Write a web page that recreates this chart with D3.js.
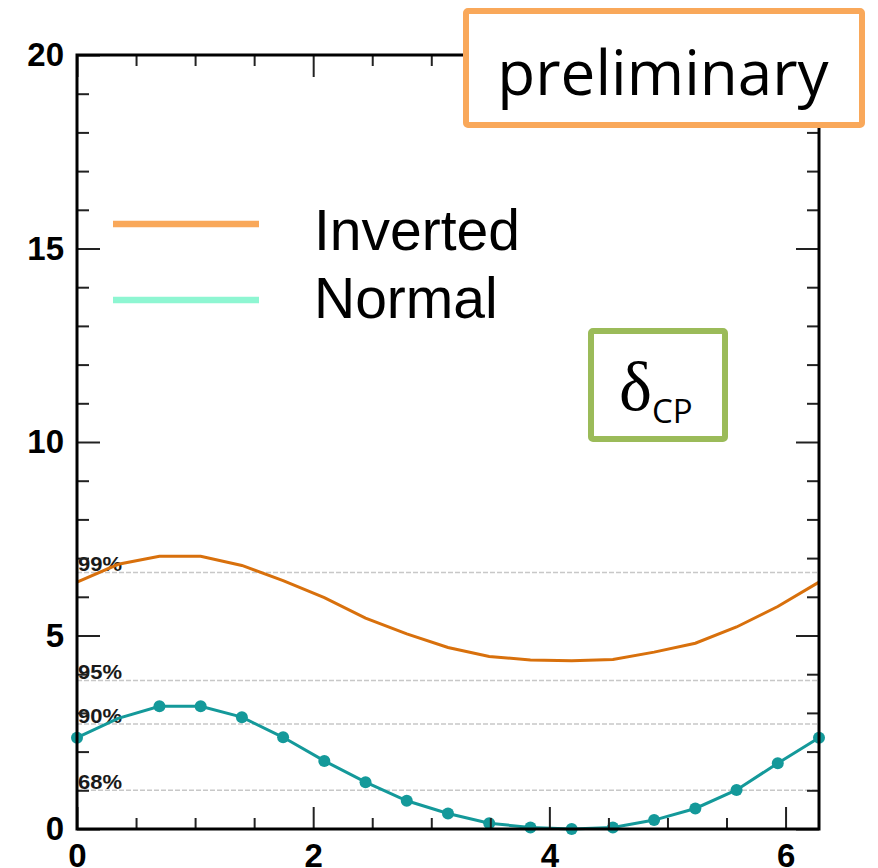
<!DOCTYPE html>
<html>
<head>
<meta charset="utf-8">
<script src="https://cdn.jsdelivr.net/npm/d3@7"></script>
<style>
  html, body { margin: 0; padding: 0; background: #fff; }
  svg { display: block; }
</style>
</head>
<body>
<svg id="chart" width="878" height="868"></svg>
<script>
// ---- data ----
const stepCount = 18; // delta_CP sampled every 2*pi/18
const deltaCP = d3.range(stepCount + 1).map(i => i * 2 * Math.PI / stepCount);
const invertedValues = [6.38, 6.84, 7.05, 7.05, 6.81, 6.42, 5.98, 5.45, 5.04, 4.69, 4.46, 4.37, 4.35, 4.38, 4.57, 4.80, 5.22, 5.75, 6.38];
const normalValues   = [2.36, 2.86, 3.17, 3.17, 2.89, 2.37, 1.76, 1.21, 0.73, 0.40, 0.15, 0.04, 0.00, 0.04, 0.23, 0.53, 1.01, 1.70, 2.36];
const normalMarkerHidden = [1];
const clLabels = ["68%", "90%", "95%", "99%"];
const clValues = [1.00, 2.71, 3.84, 6.63];
const seriesNames = ["Inverted", "Normal"];
const yMajorTicks = [0, 5, 10, 15, 20];
const xMajorTicks = [0, 2, 4, 6];
const prelimText = "preliminary";

// ---- layout ----
const svg = d3.select("#chart");
const X0 = 77, X1 = 819, Y0 = 829, Y1 = 55;
const x = d3.scaleLinear().domain([0, 2 * Math.PI]).range([X0, X1]);
const y = d3.scaleLinear().domain([0, 20]).range([Y0, Y1]);

const invColor = "#d8700c";
const normColor = "#14999a";

// confidence level lines
const cl = svg.append("g");
cl.selectAll("line").data(clValues).join("line")
  .attr("x1", X0).attr("x2", X1)
  .attr("y1", d => y(d)).attr("y2", d => y(d))
  .attr("stroke", "#c8c8c8").attr("stroke-width", 1.5)
  .attr("stroke-dasharray", "5,2");
cl.selectAll("text").data(clValues).join("text")
  .attr("x", X0 + 1).attr("y", d => y(d) - 1)
  .attr("font-family", "Liberation Sans, Arial, sans-serif")
  .attr("font-size", 21).attr("font-weight", "bold").attr("fill", "#1a1a1a")
  .attr("textLength", 44).attr("lengthAdjust", "spacingAndGlyphs")
  .text((d, i) => clLabels[i]);

// curves
const line = d3.line().x((d, i) => x(deltaCP[i])).y(d => y(d));
svg.append("path").datum(invertedValues)
  .attr("d", line).attr("fill", "none")
  .attr("stroke", invColor).attr("stroke-width", 3);
svg.append("path").datum(normalValues)
  .attr("d", line).attr("fill", "none")
  .attr("stroke", normColor).attr("stroke-width", 3);
svg.append("g").selectAll("circle")
  .data(normalValues.map((v, i) => ({v, i})).filter(d => !normalMarkerHidden.includes(d.i)))
  .join("circle")
  .attr("cx", d => x(deltaCP[d.i])).attr("cy", d => y(d.v))
  .attr("r", 6).attr("fill", normColor);

// axes
const fontAx = "Liberation Sans, Arial, sans-serif";
function styleAxis(g) {
  g.select(".domain").remove();
  g.selectAll(".tick line").attr("stroke", "#222").attr("stroke-width", 2);
  g.selectAll(".tick text").attr("font-family", fontAx).attr("font-size", 33)
    .attr("font-weight", "bold").attr("fill", "#000");
}
const yMinor = d3.range(0, 21, 1).filter(v => !yMajorTicks.includes(v));
const xMinor = d3.range(0, 6.01, 0.5).filter(v => !xMajorTicks.includes(v));

// left
svg.append("g").attr("transform", `translate(${X0},0)`)
  .call(d3.axisLeft(y).tickValues(yMajorTicks).tickSize(-23).tickPadding(13).tickFormat(d3.format("d")))
  .call(styleAxis);
svg.append("g").attr("transform", `translate(${X0},0)`)
  .call(d3.axisLeft(y).tickValues(yMinor).tickSize(-12).tickFormat(""))
  .call(styleAxis);
// right
svg.append("g").attr("transform", `translate(${X1},0)`)
  .call(d3.axisRight(y).tickValues(yMajorTicks).tickSize(-23).tickFormat(""))
  .call(styleAxis);
svg.append("g").attr("transform", `translate(${X1},0)`)
  .call(d3.axisRight(y).tickValues(yMinor).tickSize(-12).tickFormat(""))
  .call(styleAxis);
// bottom
svg.append("g").attr("transform", `translate(0,${Y0})`)
  .call(d3.axisBottom(x).tickValues(xMajorTicks).tickSize(-22).tickPadding(15).tickFormat(d3.format("d")))
  .call(styleAxis);
svg.append("g").attr("transform", `translate(0,${Y0})`)
  .call(d3.axisBottom(x).tickValues(xMinor).tickSize(-11).tickFormat(""))
  .call(styleAxis);
// top
svg.append("g").attr("transform", `translate(0,${Y1})`)
  .call(d3.axisTop(x).tickValues(xMajorTicks).tickSize(-22).tickFormat(""))
  .call(styleAxis);
svg.append("g").attr("transform", `translate(0,${Y1})`)
  .call(d3.axisTop(x).tickValues(xMinor).tickSize(-11).tickFormat(""))
  .call(styleAxis);

// frame
svg.append("rect").attr("x", X0).attr("y", Y1).attr("width", X1 - X0).attr("height", Y0 - Y1)
  .attr("fill", "none").attr("stroke", "#000").attr("stroke-width", 3);

// legend
const legendColors = ["#f9a85a", "#8ef6d2"];
const leg = svg.append("g");
seriesNames.forEach((name, i) => {
  const ly = 224 + i * 76;
  leg.append("line").attr("x1", 113).attr("x2", 259).attr("y1", ly).attr("y2", ly)
    .attr("stroke", legendColors[i]).attr("stroke-width", 6.5);
  leg.append("text").attr("x", 314).attr("y", 250 + i * 68)
    .attr("font-family", fontAx).attr("font-size", 57).attr("fill", "#000")
    .text(name);
});

// preliminary box
svg.append("rect").attr("x", 466).attr("y", 11).attr("width", 396).attr("height", 114)
  .attr("rx", 2).attr("fill", "#fff").attr("stroke", "#f9a85a").attr("stroke-width", 6);
svg.append("text").attr("x", 663).attr("y", 95).attr("text-anchor", "middle")
  .attr("font-family", "Open Sans, Noto Sans, sans-serif").attr("font-size", 62)
  .attr("fill", "#000").text(prelimText);

// delta_CP box
svg.append("rect").attr("x", 591).attr("y", 331).attr("width", 134).attr("height", 108)
  .attr("rx", 2).attr("fill", "#fff").attr("stroke", "#9bbb59").attr("stroke-width", 6);
const dt = svg.append("text").attr("x", 619).attr("y", 410).attr("fill", "#000");
dt.append("tspan").attr("font-family", "Liberation Serif, Times New Roman, serif")
  .attr("font-size", 70).text("δ");
dt.append("tspan").attr("font-family", "Open Sans, Noto Sans, sans-serif")
  .attr("font-size", 33).attr("dy", 13).text("CP");
</script>
</body>
</html>
